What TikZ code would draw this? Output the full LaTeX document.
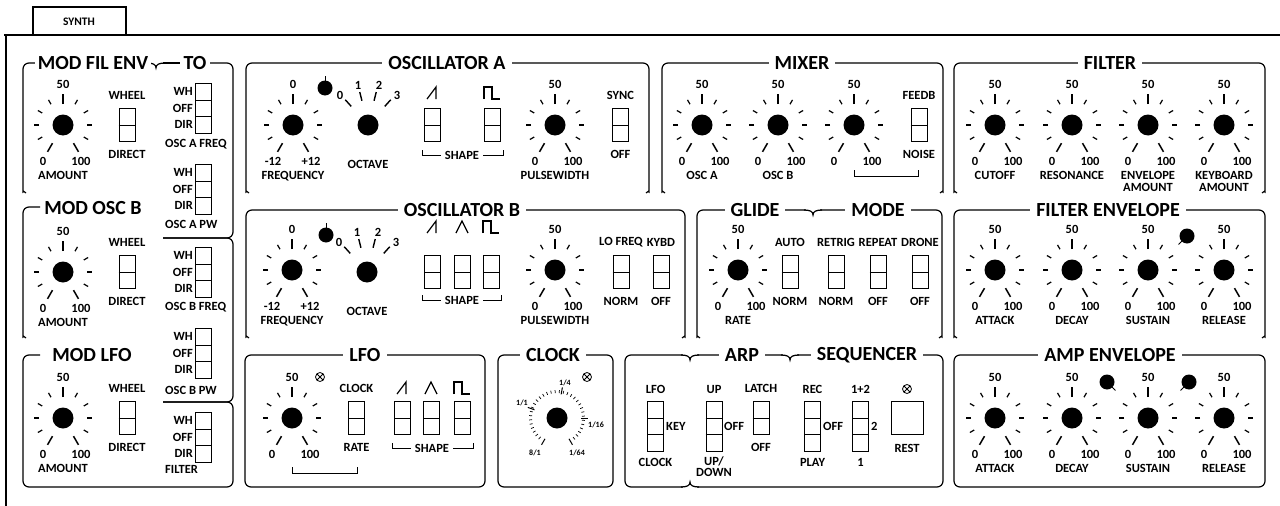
\documentclass[tikz,border=0pt]{standalone}
\usepackage{fontspec}
\setmainfont{Carlito}
\usetikzlibrary{calc}

\tikzset{
  lbl/.style={font=\bfseries\fontsize{12.5}{12}\selectfont,inner sep=0pt},
  ttl/.style={font=\bfseries\fontsize{20}{20}\selectfont,fill=white,inner xsep=6pt,inner ysep=0pt},
  tiny/.style={font=\bfseries\fontsize{8}{8}\selectfont,inner sep=0pt},
  frame/.style={line width=1.2pt,rounded corners=6pt},
  swbox/.style={draw,line width=0.9pt,minimum width=16pt,inner sep=0pt,anchor=north},
  tickmark/.style={line width=1.2pt},
  brk/.style={line width=1pt},
}

% knob: name, x, y, top, left, right, caption
\newcommand{\knob}[7]{%
  \coordinate (#1) at (#2,#3);
  \fill (#1) circle[radius=10.5pt];
  \foreach \a in {-30,0,30,60,120,150,180,210}
    \draw[tickmark] ($(#1)+(\a:24pt)$) -- ($(#1)+(\a:29pt)$);
  \foreach \a in {-60,90,240}
    \draw[tickmark,line width=1.5pt] ($(#1)+(\a:21pt)$) -- ($(#1)+(\a:31pt)$);
  \node[lbl] (#1-t) at ($(#1)+(0,-41)$) {#4};
  \node[lbl] (#1-l) at ($(#1)+(-20,36)$) {#5};
  \node[lbl] (#1-r) at ($(#1)+(18,36)$) {#6};
  \if\relax\detokenize{#7}\relax\else
  \node[lbl,anchor=north,align=center] (#1-c) at ($(#1)+(0,46)$) {#7};
  \fi
}
% octave knob: name, x, y, caption
\newcommand{\octknob}[4]{%
  \coordinate (#1) at (#2,#3);
  \fill (#1) circle[radius=10.5pt];
  \foreach \a in {48,76,104,132}
    \draw[tickmark,line width=1.4pt] ($(#1)+(\a:25pt)$) -- ($(#1)+(\a:34pt)$);
  \node[lbl] (#1-0) at ($(#1)+(-28,-30)$) {0};
  \node[lbl] (#1-1) at ($(#1)+(-10,-40)$) {1};
  \node[lbl] (#1-2) at ($(#1)+(11,-40)$) {2};
  \node[lbl] (#1-3) at ($(#1)+(29,-30)$) {3};
  \node[lbl] (#1-c) at ($(#1)+(0,39)$) {#4};
}
% small knob: name, x, y, tick angle
\newcommand{\smallknob}[4]{%
  \coordinate (#1) at (#2,#3);
  \fill (#1) circle[radius=7.5pt];
  \draw[line width=1pt] ($(#1)+(#4:7pt)$) -- ($(#1)+(#4:12pt)$);
}
% switches
\newcommand{\swbox}[3]{%
  \node[swbox,minimum height=33pt] (#1) at (#2,#3) {};
  \draw[line width=0.9pt] (#1.west) -- (#1.east);
}
\newcommand{\swtwo}[5]{%
  \swbox{#1}{#2}{#3}
  \node[lbl] (#1-t) at ($(#1.north)+(0,-12.5)$) {#4};
  \node[lbl] (#1-b) at ($(#1.north)+(0,46)$) {#5};
}
\newcommand{\swthree}[3]{%
  \node[swbox,minimum height=50pt] (#1) at (#2,#3) {};
  \draw[line width=0.9pt] ($(#1.north west)!1/3!(#1.south west)$) -- ($(#1.north east)!1/3!(#1.south east)$);
  \draw[line width=0.9pt] ($(#1.north west)!2/3!(#1.south west)$) -- ($(#1.north east)!2/3!(#1.south east)$);
}
% routing switch: name, top, caption, caption y
\newcommand{\tosw}[4]{%
  \swthree{#1}{203.5}{#2}
  \node[lbl,anchor=east] (#1-wh) at (193,#2+8.5) {WH};
  \node[lbl,anchor=east] (#1-of) at (193,#2+25) {OFF};
  \node[lbl,anchor=east] (#1-dr) at (193,#2+41.5) {DIR};
  \node[lbl,anchor=west] (#1-c) at (165,#4) {#3};
}
% open panel: x1, x2, top, bottom
\newcommand{\panelopen}[4]{%
  \draw[frame] (#1+3,#4) .. controls (#1+1,#4-1) and (#1,#4-3) .. (#1,#4-7) -- (#1,#3) -- (#2,#3)
    -- (#2,#4-7) .. controls (#2,#4-3) and (#2-1,#4-1) .. (#2-3,#4);
}
% brace tip in a frame line: x, y, depth
\newcommand{\brtip}[3]{%
  \draw[white,line width=2.6pt] (#1-7,#2) -- (#1+7,#2);
  \draw[line width=1.2pt] (#1-9,#2) .. controls (#1-3,#2) and (#1,#2+0.3*#3) .. (#1,#2+#3)
    .. controls (#1,#2+0.3*#3) and (#1+3,#2) .. (#1+9,#2);
}
% wave shapes and symbols
\newcommand{\sawsym}[2]{\draw[line width=1.2pt] (#1-6,#2+6) -- (#1+3,#2-6) -- (#1+3,#2+6);}
\newcommand{\trisym}[2]{\draw[line width=1.2pt] (#1-6,#2+6) -- (#1,#2-6) -- (#1+6,#2+6);}
\newcommand{\sqrsym}[2]{\draw[line width=1.2pt] (#1-8,#2+6) -- (#1-8,#2-6) -- (#1,#2-6) -- (#1,#2+6) -- (#1+8,#2+6);}
\newcommand{\xsym}[2]{\draw[line width=0.8pt] (#1,#2) circle[radius=4.5pt]
  ($(#1,#2)+(45:4.5pt)$) -- ($(#1,#2)+(225:4.5pt)$) ($(#1,#2)+(135:4.5pt)$) -- ($(#1,#2)+(-45:4.5pt)$);}

\begin{document}
\begin{tikzpicture}[x=1pt,y=-1pt]
\useasboundingbox (0,0) rectangle (1280,506);

% outer frame and tab
\draw[line width=1.2pt] (4,35) -- (1280,35);
\draw[line width=1.2pt] (6,35) -- (6,506);
\draw[line width=1.2pt] (33,35) -- (33,7) -- (126,7) -- (126,35);
\node[lbl,font=\bfseries\fontsize{11.5}{12}\selectfont] (tab) at (79,22) {SYNTH};

% modulation column
\draw[frame] (40,63) -- (23,63) -- (23,186) .. controls (23,190) and (24,192) .. (26,193);
\draw[frame] (40,63) -- (180,63);
\draw[frame] (210,63) -- (233,63) -- (233,238) -- (163,238);
\draw[frame] (163,238) -- (233,238) -- (233,402) -- (163,402);
\draw[frame] (163,402) -- (233,402) -- (233,487) -- (23,487) -- (23,355) -- (40,355);
\draw[frame] (40,207) -- (23,207) -- (23,331) .. controls (23,335) and (24,337) .. (26,338);
\brtip{156}{63}{5}
\node[ttl,inner xsep=3pt] (modfe) at (93,63) {MOD FIL ENV};
\node[ttl,inner xsep=3pt] (to) at (195,63) {TO};
\node[ttl,inner xsep=3pt] (modob) at (93,208) {MOD OSC B};
\node[ttl,inner xsep=3pt] (modlf) at (92,355) {MOD LFO};

\knob{mfe}{63}{125}{50}{0}{100}{AMOUNT}
\knob{mob}{63}{272}{50}{0}{100}{AMOUNT}
\knob{mlf}{63}{418}{50}{0}{100}{AMOUNT}
\swtwo{mfew}{127}{108}{WHEEL}{DIRECT}
\swtwo{mobw}{127}{255}{WHEEL}{DIRECT}
\swtwo{mlfw}{127}{401}{WHEEL}{DIRECT}

\tosw{toa}{83}{OSC A FREQ}{144}
\tosw{tob}{164}{OSC A PW}{224}
\tosw{toc}{247}{OSC B FREQ}{307}
\tosw{tod}{328}{OSC B PW}{390}
\tosw{toe}{412}{FILTER}{469}

% oscillator a
\panelopen{246}{649}{63}{193}
\node[ttl] (osca) at (447,63) {OSCILLATOR A};
\knob{fra}{293}{125}{0}{-12}{+12}{FREQUENCY}
\smallknob{fda}{325}{88}{90}
\octknob{oca}{368}{125}{OCTAVE}
\swbox{sa1}{432.5}{108}
\swbox{sa2}{492.5}{108}
\sawsym{433}{93}
\sqrsym{492}{93}
\draw[brk] (422,150) -- (422,155) -- (503,155) -- (503,150);
\node[lbl,fill=white,inner xsep=4pt] (shpa) at (462,155) {SHAPE};
\knob{pwa}{555}{125}{50}{0}{100}{PULSEWIDTH}
\swtwo{sya}{620.5}{108}{SYNC}{OFF}

% mixer
\panelopen{662}{943}{63}{193}
\node[ttl] (mix) at (802,63) {MIXER};
\knob{mxa}{702}{125}{50}{0}{100}{OSC A}
\knob{mxb}{778}{125}{50}{0}{100}{OSC B}
\knob{mxn}{854}{125}{50}{0}{100}{}
\draw[brk] (854,170) -- (854,176) -- (918,176) -- (918,170);
\swtwo{fbn}{919}{108}{FEEDB}{NOISE}

% filter
\panelopen{954}{1265}{63}{193}
\node[ttl] (flt) at (1110,63) {FILTER};
\knob{cut}{995}{125}{50}{0}{100}{CUTOFF}
\knob{res}{1072}{125}{50}{0}{100}{RESONANCE}
\knob{ena}{1148}{125}{50}{0}{100}{ENVELOPE\\AMOUNT}
\knob{kba}{1224}{125}{50}{0}{100}{KEYBOARD\\AMOUNT}

% oscillator b
\panelopen{246}{685}{210}{338}
\node[ttl] (oscb) at (462,210) {OSCILLATOR B};
\knob{frb}{292}{270}{0}{-12}{+12}{FREQUENCY}
\smallknob{fdb}{326}{235}{90}
\octknob{ocb}{367}{272}{OCTAVE}
\swbox{sb1}{432.5}{255}
\swbox{sb2}{462.5}{255}
\swbox{sb3}{491.5}{255}
\sawsym{433}{227}
\trisym{462}{227}
\sqrsym{491}{227}
\draw[brk] (422,295) -- (422,300) -- (501,300) -- (501,295);
\node[lbl,fill=white,inner xsep=4pt] (shpb) at (462,300) {SHAPE};
\knob{pwb}{555}{270}{50}{0}{100}{PULSEWIDTH}
\swtwo{lfb}{621}{255}{LO FREQ}{NORM}
\swtwo{kbb}{661}{255}{KYBD}{OFF}

% glide and mode
\panelopen{697}{942}{210}{338}
\brtip{813}{210}{5}
\node[ttl] (gld) at (755,210) {GLIDE};
\node[ttl] (mde) at (878,210) {MODE};
\knob{gl}{738}{270}{50}{0}{100}{RATE}
\swtwo{au}{790}{255}{AUTO}{NORM}
\swtwo{rt}{836}{255}{RETRIG}{NORM}
\swtwo{rp}{878}{255}{REPEAT}{OFF}
\swtwo{dr}{920}{255}{DRONE}{OFF}

% filter envelope
\panelopen{954}{1265}{210}{338}
\node[ttl] (fenv) at (1108,210) {FILTER ENVELOPE};
\knob{fat}{995}{270}{50}{0}{100}{ATTACK}
\knob{fdc}{1072}{270}{50}{0}{100}{DECAY}
\knob{fsu}{1148}{270}{50}{0}{100}{SUSTAIN}
\knob{frl}{1224}{270}{50}{0}{100}{RELEASE}
\smallknob{fsd}{1187}{236}{225}

% lfo
\draw[frame] (245,355) rectangle (485,487);
\node[ttl] (lfo) at (365,355) {LFO};
\knob{lfr}{292}{418}{50}{0}{100}{}
\draw[brk] (292,467) -- (292,473) -- (357,473) -- (357,467);
\xsym{320}{377}
\swtwo{lck}{356.5}{401}{CLOCK}{RATE}
\swbox{sl1}{402.5}{401}
\swbox{sl2}{431.5}{401}
\swbox{sl3}{462}{401}
\sawsym{403}{388}
\trisym{431}{388}
\sqrsym{462}{388}
\draw[brk] (392,443) -- (392,448) -- (473,448) -- (473,443);
\node[lbl,fill=white,inner xsep=4pt] (shpl) at (432,448) {SHAPE};

% clock
\draw[frame] (498,355) rectangle (613,487);
\node[ttl] (clock) at (553,355) {CLOCK};
\coordinate (clk) at (557,418);
\fill (clk) circle[radius=10.5pt];
\foreach \a in {-50,-41,...,235}
  \draw[line width=0.7pt] ($(clk)+(\a:25pt)$) -- ($(clk)+(\a:28pt)$);
\foreach \a in {-60,0,80,160,240}
  \draw[line width=1pt] ($(clk)+(\a:24pt)$) -- ($(clk)+(\a:31pt)$);
\node[tiny] (c11) at (522,403) {1/1};
\node[tiny] (c14) at (565,383) {1/4};
\node[tiny] (c116) at (596,425) {1/16};
\node[tiny] (c81) at (535,453) {8/1};
\node[tiny] (c164) at (577,453) {1/64};
\xsym{587}{377}

% arp and sequencer
\draw[frame] (625,355) rectangle (943,487);
\brtip{690}{355}{5}
\brtip{790}{355}{5}
\brtip{690}{487}{-5}
\node[ttl] (arp) at (742,355) {ARP};
\node[ttl] (seq) at (867,355) {SEQUENCER};
\swthree{lk}{655.5}{401}
\node[lbl] (lk-t) at (655.5,389) {LFO};
\node[lbl,anchor=west] (lk-m) at (666,426) {KEY};
\node[lbl] (lk-b) at (655.5,462) {CLOCK};
\swthree{ud}{714}{401}
\node[lbl] (ud-t) at (714,389) {UP};
\node[lbl,anchor=west] (ud-m) at (724,426) {OFF};
\node[lbl,anchor=north,align=center,font=\bfseries\fontsize{12.5}{11}\selectfont] (ud-b) at (714,457) {UP/\\DOWN};
\swtwo{la}{761}{401}{LATCH}{OFF}
\swthree{rc}{812.5}{401}
\node[lbl] (rc-t) at (812.5,389) {REC};
\node[lbl,anchor=west] (rc-m) at (823,426) {OFF};
\node[lbl] (rc-b) at (812.5,462) {PLAY};
\swthree{ot}{860.5}{401}
\node[lbl] (ot-t) at (860.5,389) {1+2};
\node[lbl,anchor=west] (ot-m) at (871,426) {2};
\node[lbl] (ot-b) at (860.5,462) {1};
\xsym{907}{389}
\node[draw,line width=0.9pt,minimum width=32pt,minimum height=33pt,anchor=north] (rst) at (907,401) {};
\node[lbl] (rst-b) at (907,448) {REST};

% amp envelope
\draw[frame] (954,355) rectangle (1265,487);
\node[ttl] (aenv) at (1110,355) {AMP ENVELOPE};
\knob{aat}{995}{418}{50}{0}{100}{ATTACK}
\knob{adc}{1072}{418}{50}{0}{100}{DECAY}
\knob{asu}{1148}{418}{50}{0}{100}{SUSTAIN}
\knob{arl}{1224}{418}{50}{0}{100}{RELEASE}
\smallknob{ads}{1107}{382}{-45}
\smallknob{ass}{1189}{382}{225}
\end{tikzpicture}
\end{document}
